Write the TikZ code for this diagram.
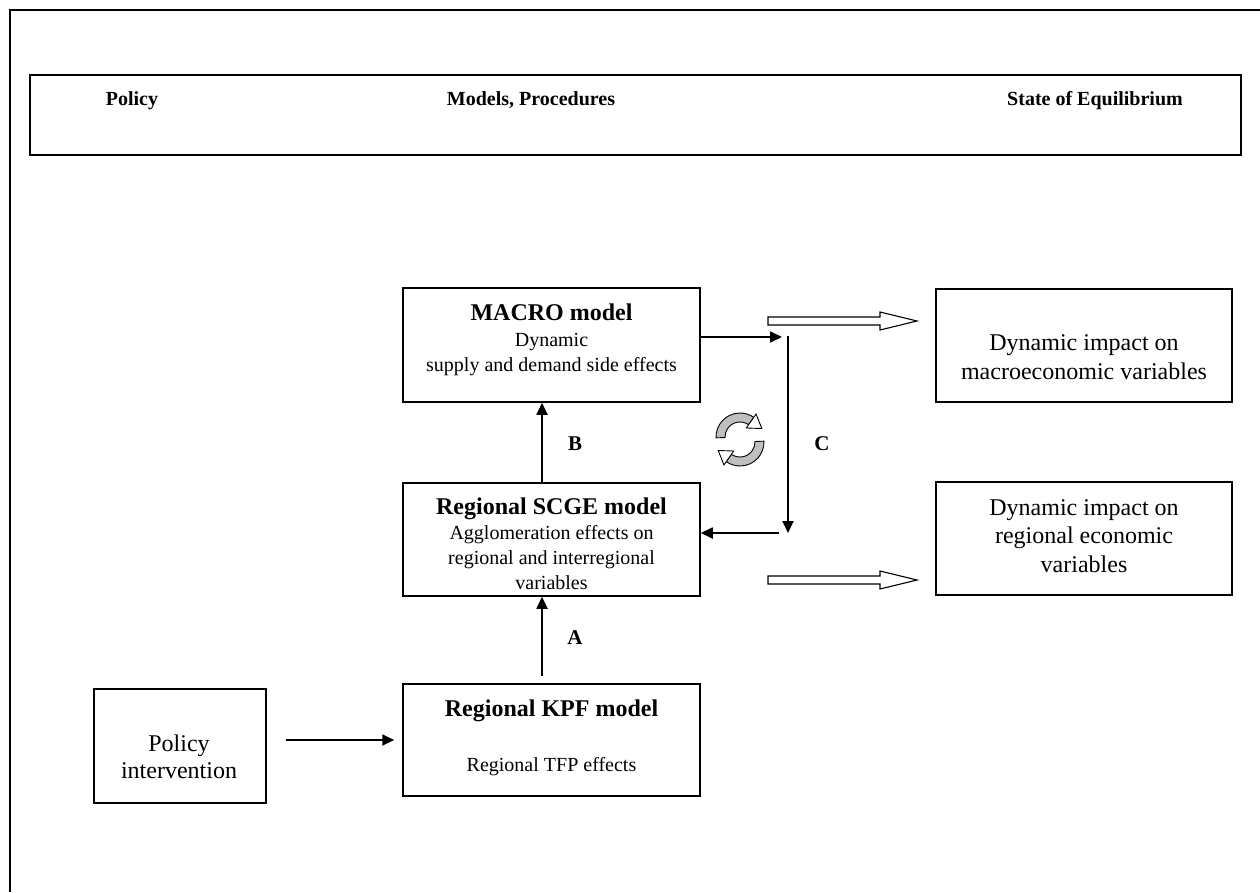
\documentclass[tikz,border=0pt]{standalone}
\usepackage{fontspec}
\setmainfont{Liberation Serif}
\usetikzlibrary{arrows.meta}
\begin{document}
\begin{tikzpicture}[x=1pt,y=-1pt,
  box/.style={draw, line width=1.5pt, inner sep=0pt, minimum width=297pt},
  hdr/.style={font=\fontsize{20}{24}\selectfont\bfseries, anchor=base, inner sep=0pt},
  ttl/.style={font=\fontsize{24}{28}\selectfont\bfseries, anchor=base, inner sep=0pt},
  bdy/.style={font=\fontsize{20}{24}\selectfont, anchor=base, inner sep=0pt},
  big/.style={font=\fontsize{24}{28}\selectfont, anchor=base, inner sep=0pt},
  lbl/.style={font=\fontsize{21}{24}\selectfont\bfseries, anchor=base, inner sep=0pt},
  conn/.style={line width=1.8pt, -{Triangle[length=12pt,width=11pt]}},
  hollow/.style={draw, line width=1.1pt, fill=white},
  rot/.style={draw, line width=0.9pt}
]
\useasboundingbox (0,0) rectangle (1260,892);
% outer frame (right and bottom cut off)
\draw[line width=1.5pt] (10,892) -- (10,10) -- (1260,10);

% header
\node[box, minimum width=1211pt, minimum height=80pt] (header) at (635.5,115) {};
\node[hdr] (hpol) at (132,105) {Policy};
\node[hdr] (hmod) at (531,105) {Models, Procedures};
\node[hdr, anchor=base east] (hsta) at (1183,105) {State of Equilibrium};

% boxes
\node[box, minimum height=114pt] (macro) at (551.5,345) {};
\node[box, minimum height=113pt] (scge) at (551.5,539.5) {};
\node[box, minimum height=112pt] (kpf) at (551.5,740) {};
\node[box, minimum width=296pt, minimum height=113pt] (rmac) at (1084,345.5) {};
\node[box, minimum width=296pt, minimum height=113pt] (rreg) at (1084,538.5) {};
\node[box, minimum width=172pt, minimum height=114pt] (pol) at (180,746) {};

% texts
\node[ttl] (macrot) at (551.5,320) {MACRO model};
\node[bdy] (macrob1) at (551.5,346) {Dynamic};
\node[bdy] (macrob2) at (551.5,371) {supply and demand side effects};

\node[ttl] (scget) at (551.5,514) {Regional SCGE model};
\node[bdy] (scgeb1) at (551.5,539) {Agglomeration effects on};
\node[bdy] (scgeb2) at (551.5,564) {regional and interregional};
\node[bdy] (scgeb3) at (551.5,589) {variables};

\node[ttl] (kpft) at (551.5,716) {Regional KPF model};
\node[bdy] (kpfb) at (551.5,771) {Regional TFP effects};

\node[big] (rmac1) at (1084,350) {Dynamic impact on};
\node[big] (rmac2) at (1084,379) {macroeconomic variables};

\node[big] (rreg1) at (1084,515) {Dynamic impact on};
\node[big] (rreg2) at (1084,543) {regional economic};
\node[big] (rreg3) at (1084,572) {variables};

\node[big] (pol1) at (179,751) {Policy};
\node[big] (pol2) at (179,778) {intervention};

\node[lbl] (la) at (575,644) {A};
\node[lbl] (lb) at (575,450) {B};
\node[lbl] (lc) at (822,450) {C};

% connectors
\coordinate (ctop) at (788,337);
\coordinate (cbot) at (788,533);
\draw[conn] ([xshift=19pt]pol.east |- kpf.west) -- ([xshift=-8pt]kpf.west);
\draw[conn] ([shift={(-9.5pt,7pt)}]kpf.north) -- ([xshift=-9.5pt]scge.south);
\draw[conn] ([xshift=-9.5pt]scge.north) -- ([xshift=-9.5pt]macro.south);
\draw[conn] (macro.east |- ctop) -- ([xshift=-6pt]ctop);
\draw[conn] ([yshift=1pt]ctop) -- (cbot);
\draw[conn] ([xshift=-9pt]cbot) -- (scge.east |- cbot);

% hollow arrows
\coordinate (h1) at (768,313);
\coordinate (h2) at (768,572);
\foreach \h in {h1,h2}{
  \draw[hollow] ([yshift=-4pt]\h) -- ++(112,0) -- ++(0,-5) -- ++(37,9) -- ++(-37,9) -- ++(0,-5) -- ++(-112,0) -- cycle;
}

% circular arrows
\foreach \r/\cy in {0/437, 180/442}{
  \begin{scope}[shift={(740,\cy)}, rotate=\r]
    \filldraw[rot, fill=black!25] (178:24) arc[start angle=178, end angle=305, radius=24]
       -- (305:15) arc[start angle=305, end angle=178, radius=15] -- cycle;
    \filldraw[rot, fill=white] (305:28) -- (21.8,-8.5) -- (305:11) -- cycle;
  \end{scope}
}
\end{tikzpicture}
\end{document}
